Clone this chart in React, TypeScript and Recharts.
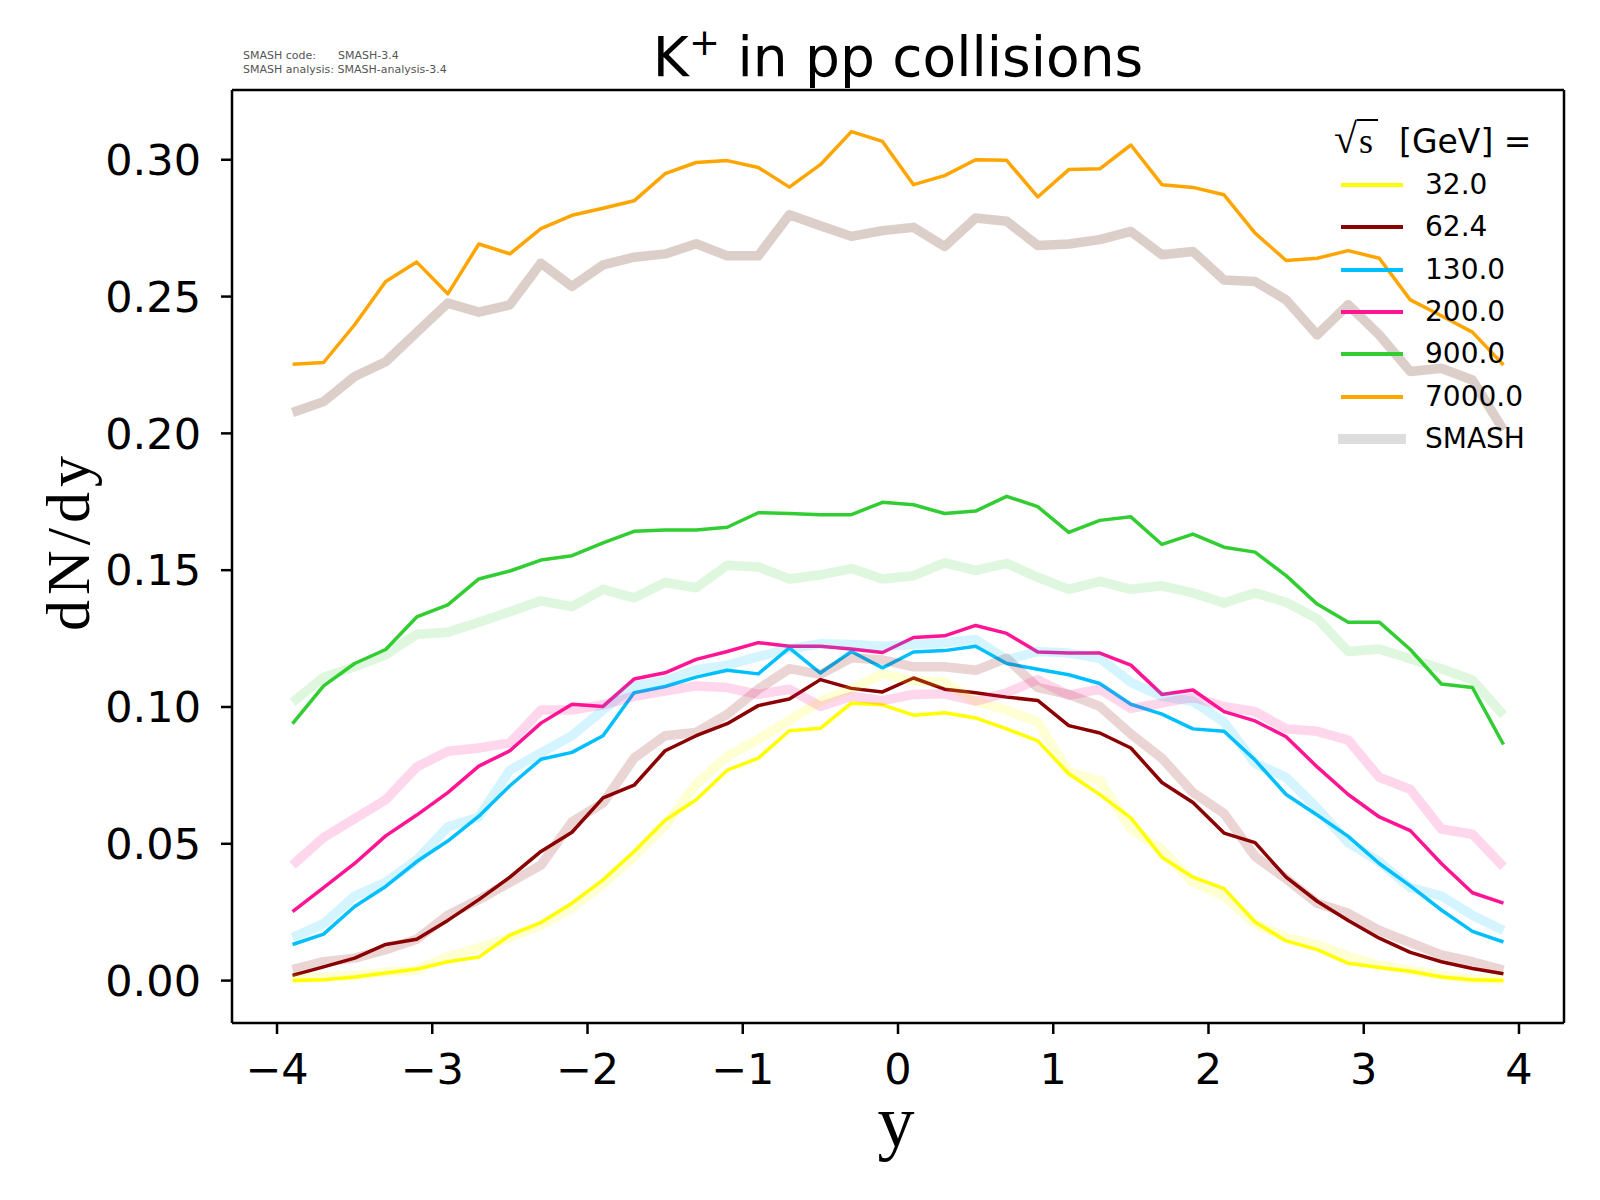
import React from 'react'
import { LineChart, Line, XAxis, YAxis, ReferenceLine } from 'recharts'

// rapidity bins (bin centres)
const rapidity = [
  -3.9, -3.7, -3.5, -3.3, -3.1, -2.9, -2.7, -2.5, -2.3, -2.1,
  -1.9, -1.7, -1.5, -1.3, -1.1, -0.9, -0.7, -0.5, -0.3, -0.1,
  0.1, 0.3, 0.5, 0.7, 0.9, 1.1, 1.3, 1.5, 1.7, 1.9,
  2.1, 2.3, 2.5, 2.7, 2.9, 3.1, 3.3, 3.5, 3.7, 3.9,
]

// experimental dN/dy per sqrt(s)
const exp32 = [0.0000, 0.0003, 0.0013, 0.0028, 0.0042, 0.0069, 0.0086, 0.0166, 0.0212, 0.0283, 0.0368, 0.0472, 0.0586, 0.0661, 0.0769, 0.0813, 0.0913, 0.0922, 0.1014, 0.1008, 0.0970, 0.0979, 0.0960, 0.0920, 0.0876, 0.0756, 0.0680, 0.0595, 0.0451, 0.0378, 0.0336, 0.0214, 0.0145, 0.0113, 0.0063, 0.0048, 0.0034, 0.0013, 0.0003, 0.0000]
const exp62 = [0.0019, 0.0050, 0.0082, 0.0132, 0.0151, 0.0220, 0.0296, 0.0378, 0.0472, 0.0542, 0.0668, 0.0714, 0.0840, 0.0895, 0.0939, 0.1005, 0.1029, 0.1100, 0.1068, 0.1055, 0.1106, 0.1065, 0.1052, 0.1036, 0.1024, 0.0932, 0.0905, 0.0850, 0.0724, 0.0651, 0.0539, 0.0504, 0.0378, 0.0290, 0.0220, 0.0155, 0.0103, 0.0069, 0.0044, 0.0025]
const exp130 = [0.0132, 0.0170, 0.0271, 0.0344, 0.0435, 0.0510, 0.0601, 0.0712, 0.0809, 0.0834, 0.0895, 0.1052, 0.1075, 0.1109, 0.1134, 0.1121, 0.1216, 0.1124, 0.1203, 0.1143, 0.1201, 0.1206, 0.1222, 0.1159, 0.1138, 0.1118, 0.1086, 0.1010, 0.0974, 0.0920, 0.0911, 0.0806, 0.0680, 0.0605, 0.0527, 0.0428, 0.0346, 0.0258, 0.0180, 0.0141]
const exp200 = [0.0252, 0.0340, 0.0428, 0.0529, 0.0605, 0.0687, 0.0784, 0.0840, 0.0941, 0.1010, 0.1002, 0.1102, 0.1125, 0.1174, 0.1203, 0.1235, 0.1222, 0.1222, 0.1212, 0.1199, 0.1254, 0.1260, 0.1298, 0.1269, 0.1201, 0.1197, 0.1197, 0.1153, 0.1046, 0.1062, 0.0983, 0.0949, 0.0891, 0.0781, 0.0680, 0.0598, 0.0548, 0.0428, 0.0321, 0.0283]
const exp900 = [0.0939, 0.1077, 0.1159, 0.1210, 0.1329, 0.1373, 0.1468, 0.1497, 0.1537, 0.1553, 0.1600, 0.1642, 0.1647, 0.1647, 0.1657, 0.1710, 0.1707, 0.1703, 0.1703, 0.1748, 0.1739, 0.1707, 0.1716, 0.1770, 0.1732, 0.1638, 0.1682, 0.1695, 0.1594, 0.1632, 0.1584, 0.1566, 0.1480, 0.1376, 0.1310, 0.1310, 0.1210, 0.1084, 0.1071, 0.0863]
const exp7000 = [0.2253, 0.2259, 0.2397, 0.2555, 0.2626, 0.2510, 0.2692, 0.2656, 0.2748, 0.2797, 0.2823, 0.2850, 0.2949, 0.2990, 0.2997, 0.2972, 0.2900, 0.2982, 0.3103, 0.3067, 0.2909, 0.2942, 0.3000, 0.2998, 0.2864, 0.2964, 0.2967, 0.3054, 0.2909, 0.2899, 0.2872, 0.2732, 0.2632, 0.2640, 0.2668, 0.2640, 0.2488, 0.2430, 0.2370, 0.2250]

// SMASH results
const smash32 = [0.0006, 0.0013, 0.0019, 0.0031, 0.0038, 0.0088, 0.0120, 0.0157, 0.0202, 0.0265, 0.0353, 0.0454, 0.0567, 0.0718, 0.0819, 0.0882, 0.0951, 0.1021, 0.1065, 0.1121, 0.1096, 0.1090, 0.1021, 0.0989, 0.0945, 0.0762, 0.0731, 0.0554, 0.0479, 0.0359, 0.0309, 0.0208, 0.0157, 0.0132, 0.0088, 0.0057, 0.0038, 0.0019, 0.0006, 0.0003]
const smash62 = [0.0040, 0.0069, 0.0082, 0.0113, 0.0151, 0.0239, 0.0296, 0.0359, 0.0422, 0.0580, 0.0649, 0.0813, 0.0895, 0.0907, 0.0973, 0.1065, 0.1140, 0.1119, 0.1180, 0.1172, 0.1147, 0.1147, 0.1134, 0.1178, 0.1071, 0.1046, 0.1002, 0.0901, 0.0813, 0.0687, 0.0611, 0.0454, 0.0372, 0.0283, 0.0246, 0.0183, 0.0139, 0.0094, 0.0069, 0.0038]
const smash130 = [0.0157, 0.0208, 0.0309, 0.0359, 0.0441, 0.0561, 0.0598, 0.0769, 0.0832, 0.0895, 0.0989, 0.1077, 0.1096, 0.1136, 0.1153, 0.1184, 0.1212, 0.1231, 0.1228, 0.1222, 0.1228, 0.1235, 0.1247, 0.1172, 0.1203, 0.1197, 0.1178, 0.1090, 0.1039, 0.1021, 0.0945, 0.0794, 0.0743, 0.0630, 0.0504, 0.0435, 0.0340, 0.0309, 0.0239, 0.0183]
const smash200 = [0.0422, 0.0523, 0.0592, 0.0661, 0.0781, 0.0838, 0.0850, 0.0869, 0.0989, 0.0989, 0.1008, 0.1039, 0.1058, 0.1077, 0.1071, 0.1046, 0.1065, 0.1002, 0.1039, 0.1023, 0.1046, 0.1048, 0.1021, 0.1052, 0.1100, 0.1043, 0.1065, 0.0995, 0.1014, 0.1036, 0.1002, 0.0983, 0.0920, 0.0911, 0.0879, 0.0743, 0.0699, 0.0554, 0.0535, 0.0416]
const smash900 = [0.1017, 0.1109, 0.1147, 0.1191, 0.1266, 0.1273, 0.1310, 0.1348, 0.1388, 0.1367, 0.1430, 0.1399, 0.1455, 0.1436, 0.1518, 0.1512, 0.1468, 0.1483, 0.1506, 0.1468, 0.1480, 0.1527, 0.1499, 0.1525, 0.1474, 0.1430, 0.1459, 0.1430, 0.1443, 0.1417, 0.1380, 0.1417, 0.1383, 0.1323, 0.1203, 0.1212, 0.1176, 0.1140, 0.1099, 0.0970]
const smash7000 = [0.2076, 0.2116, 0.2208, 0.2262, 0.2369, 0.2476, 0.2443, 0.2470, 0.2622, 0.2537, 0.2616, 0.2644, 0.2656, 0.2693, 0.2649, 0.2649, 0.2799, 0.2759, 0.2720, 0.2741, 0.2753, 0.2683, 0.2787, 0.2775, 0.2687, 0.2692, 0.2708, 0.2738, 0.2653, 0.2665, 0.2561, 0.2555, 0.2488, 0.2360, 0.2470, 0.2360, 0.2226, 0.2238, 0.2195, 0.2012]

const energies = ['32.0', '62.4', '130.0', '200.0', '900.0', '7000.0']
const expSeries = [exp32, exp62, exp130, exp200, exp900, exp7000]
const smashSeries = [smash32, smash62, smash130, smash200, smash900, smash7000]

const xTicks = [-4, -3, -2, -1, 0, 1, 2, 3, 4]
const yTicks = [0, 0.05, 0.1, 0.15, 0.2, 0.25, 0.3]

const colors = ['#ffff00', '#8b0000', '#00bfff', '#ff1493', '#32cd32', '#ffa500']
// smash curves: same hue, faded (the 7000 one is greyish brown in the original)
const smashColors = ['#ffff00', '#8b0000', '#00bfff', '#ff1493', '#32cd32', '#9c7460']
const smashOpacity = [0.17, 0.17, 0.17, 0.17, 0.16, 0.35]

const xDomain = [-4.29, 4.29]
const yDomain = [-0.0155, 0.3255]

const chartData = rapidity.map((y, i) => {
  const row: any = { y }
  expSeries.forEach((s, k) => { row['e' + k] = s[i] })
  smashSeries.forEach((s, k) => { row['s' + k] = s[i] })
  return row
})

const sans = 'DejaVu Sans'
const serif = 'Liberation Serif'

const fmtX = (v: number) => (v < 0 ? '\u2212' + Math.abs(v) : String(v))

function LegendBox() {
  const rowY = (k: number) => 185 + k * 42.3
  return (
    <div style={{ position: 'absolute', left: 0, top: 0, width: 1600, height: 1200, pointerEvents: 'none' }}>
      <div style={{ position: 'absolute', left: 1334, top: 119, height: 40, lineHeight: '40px', whiteSpace: 'nowrap', fontFamily: sans, fontSize: 33 }}>
        <span style={{ fontFamily: serif, fontSize: 42 }}>√</span>
        <span style={{ fontFamily: serif, fontSize: 36, borderTop: '2px solid #000', padding: '0 5px 0 2px' }}>s</span>
        <span>{'  [GeV] ='.replace(/ /g, '\u00a0')}</span>
      </div>
      {energies.map((e, k) => (
        <div key={e} style={{ position: 'absolute', left: 1338, top: rowY(k) - 14, height: 28, display: 'flex', alignItems: 'center' }}>
          <svg width={70} height={28}>
            <line x1={3} y1={14} x2={65} y2={14} stroke={colors[k]} strokeWidth={4} />
          </svg>
          <span style={{ position: 'absolute', left: 87, top: 0, lineHeight: '28px', fontFamily: sans, fontSize: 28 }}>{e}</span>
        </div>
      ))}
      <div style={{ position: 'absolute', left: 1338, top: rowY(6) - 14, height: 28, display: 'flex', alignItems: 'center' }}>
        <svg width={70} height={28}>
          <line x1={0} y1={14} x2={68} y2={14} stroke="#dddddd" strokeWidth={10} />
        </svg>
        <span style={{ position: 'absolute', left: 87, top: 0, lineHeight: '28px', fontFamily: sans, fontSize: 28 }}>SMASH</span>
      </div>
    </div>
  )
}

export default function App() {
  const axisStroke = { stroke: '#000', strokeWidth: 2.5 }
  const tickStyle = { fontSize: 43, fontFamily: sans, fill: '#000' }
  return (
    <div style={{ position: 'absolute', left: 0, top: 0, width: 1600, height: 1200, background: '#fff' }}>
      <LineChart width={1600} height={1200} data={chartData} margin={{ top: 90, right: 36, left: 132, bottom: 77 }}>
        <XAxis
          dataKey="y"
          type="number"
          domain={xDomain}
          allowDataOverflow
          ticks={xTicks}
          tickFormatter={fmtX}
          height={100}
          tickSize={11}
          tickMargin={19}
          axisLine={axisStroke}
          tickLine={axisStroke}
          tick={tickStyle}
        />
        <YAxis
          type="number"
          domain={yDomain}
          allowDataOverflow
          ticks={yTicks}
          tickFormatter={(v: number) => v.toFixed(2)}
          width={100}
          tickSize={11}
          tickMargin={20}
          axisLine={axisStroke}
          tickLine={axisStroke}
          tick={tickStyle}
        />
        {/* top and right spines of the axes box */}
        <ReferenceLine y={yDomain[1]} stroke="#000" strokeWidth={2.5} />
        <ReferenceLine x={xDomain[1]} stroke="#000" strokeWidth={2.5} />
        {energies.map((e, k) => (
          <Line
            key={'e' + k}
            type="linear"
            dataKey={'e' + k}
            stroke={colors[k]}
            strokeWidth={3.5}
            strokeLinejoin="round"
            dot={false}
            activeDot={false}
            isAnimationActive={false}
          />
        ))}
        {energies.map((e, k) => (
          <Line
            key={'s' + k}
            type="linear"
            dataKey={'s' + k}
            stroke={smashColors[k]}
            strokeOpacity={smashOpacity[k]}
            strokeWidth={9.5}
            strokeLinejoin="round"
            dot={false}
            activeDot={false}
            isAnimationActive={false}
          />
        ))}
      </LineChart>

      <div style={{ position: 'absolute', left: 243, top: 49, fontFamily: sans, fontSize: 11, color: '#555', lineHeight: '14px', whiteSpace: 'nowrap' }}>
        <div>SMASH code:<span style={{ position: 'absolute', left: 95 }}>SMASH-3.4</span></div>
        <div>SMASH analysis: SMASH-analysis-3.4</div>
      </div>

      <div style={{ position: 'absolute', left: 898, top: 30, transform: 'translateX(-50%)', fontFamily: sans, fontSize: 55, lineHeight: '55px', whiteSpace: 'nowrap' }}>
        K<span style={{ fontSize: 37, position: 'relative', top: -21 }}>+</span> in pp collisions
      </div>

      <div style={{ position: 'absolute', left: 68, top: 541, transform: 'translate(-50%, -50%) rotate(-90deg)', fontFamily: serif, fontSize: 62, lineHeight: '62px', letterSpacing: 5, whiteSpace: 'nowrap' }}>
        dN/dy
      </div>

      <div style={{ position: 'absolute', left: 896, top: 1101, transform: 'translateX(-50%)', fontFamily: serif, fontSize: 74, lineHeight: '40px' }}>
        y
      </div>

      <LegendBox />
    </div>
  )
}
